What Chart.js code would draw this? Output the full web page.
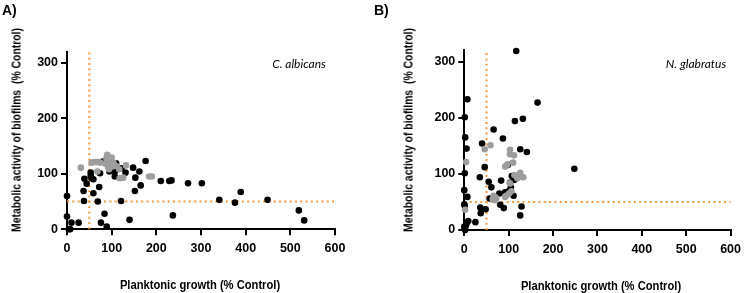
<!DOCTYPE html>
<html>
  <head>
    <title>Planktonic growth vs biofilm activity</title>
    <script src="https://cdn.jsdelivr.net/npm/chart.js"></script>
    <style>
      body {
        margin: 0;
        background: #fff;
        font-family: "Liberation Sans", Arial, sans-serif;
      }

      .wrap {
        position: relative;
        width: 747px;
        height: 293px;
        overflow: hidden;
      }

      canvas {
        position: absolute;
        top: 0;
      }

      .txt {
        position: absolute;
        white-space: nowrap;
        color: #000;
        transform: translate(-50%, -50%);
      }

      .panel {
        font-weight: bold;
        font-size: 14px;
        transform: none;
      }

      /* the original titles use a narrow bold face */
      .axis-title {
        font-weight: bold;
        font-size: 13px;
        transform: translate(-50%, -50%) scaleX(0.86);
      }

      .vert {
        transform: translate(-50%, -50%) rotate(-90deg) scaleX(0.8);
      }

      .species {
        font-family: Lato, "Open Sans", sans-serif;
        font-style: italic;
        font-size: 12px;
      }
    </style>
  </head>
  <body>
    <div class="wrap">
      <canvas id="chartA" width="373" height="293" style="left: 0"></canvas>
      <canvas id="chartB" width="374" height="293" style="left: 373px"></canvas>

      <div class="txt panel" style="left: 2px; top: 2px">A)</div>
      <div class="txt panel" style="left: 374px; top: 2px">B)</div>
      <div class="txt species" style="left: 299px; top: 63px">C. albicans</div>
      <div class="txt species" style="left: 696px; top: 63px">N. glabratus</div>
      <div class="txt axis-title vert" style="left: 16px; top: 130px">Metabolic activity of biofilms&nbsp; (% Control)</div>
      <div class="txt axis-title vert" style="left: 408px; top: 130px">Metabolic activity of biofilms&nbsp; (% Control)</div>
      <div class="txt axis-title" style="left: 200px; top: 284px">Planktonic growth (% Control)</div>
      <div class="txt axis-title" style="left: 601px; top: 285px">Planktonic growth (% Control)</div>
    </div>

    <script>
      // cut-off lines at 50 % of control
      const cutoff = 50;
      const xTicks = [0, 100, 200, 300, 400, 500, 600];
      const yTicks = [0, 100, 200, 300];
      const yMax = 320;

      // A) C. albicans
      const aBlackX = [0, 0, 4, 7, 10, 26, 37, 38, 39, 44, 53, 53, 55, 59, 59, 69, 72, 74, 76, 80, 84, 89, 95, 107, 107, 110, 121, 122, 131, 140, 148, 152, 153, 162, 165, 176, 210, 229, 234, 237, 271, 302, 341, 376, 389, 449, 519, 531];
      const aBlackY = [60, 23, 0, 0, 12, 12, 69, 51, 91, 82, 102, 96, 92, 90, 65, 50, 76, 101, 12, 122, 28, 5, 104, 95, 104, 119, 51, 110, 102, 17, 111, 69, 93, 104, 79, 123, 87, 87, 88, 25, 83, 83, 53, 48, 67, 53, 34, 16];
      const aGrayX = [31, 55, 61, 66, 70, 75, 68, 86, 88, 90, 92, 92, 94, 96, 98, 100, 102, 104, 110, 117, 118, 126, 132, 184, 190];
      const aGrayY = [111, 120, 121, 121, 121, 120, 104, 118, 128, 134, 124, 112, 108, 116, 126, 129, 113, 120, 114, 108, 92, 93, 115, 95, 95];

      // B) N. glabratus
      const bBlackX = [117, 7, 1, 2, 5, 1, 0, 7, 0, 1, 0, 3, 5, 9, 25, 37, 36, 35, 40, 48, 46, 55, 61, 57, 66, 83, 79, 81, 87, 89, 92, 98, 101, 105, 103, 107, 112, 111, 114, 132, 126, 126, 129, 141, 165, 248, 1, 2];
      const bBlackY = [319, 233, 201, 165, 145, 101, 71, 59, 46, 43, 6, 7, 11, 16, 14, 30, 40, 94, 154, 37, 112, 86, 76, 56, 179, 88, 65, 45, 163, 39, 67, 116, 70, 76, 84, 96, 89, 61, 194, 198, 144, 26, 42, 139, 227, 109, 3, 0];
      const bGrayX = [4, 2, 46, 59, 64, 68, 70, 72, 66, 92, 92, 96, 103, 103, 112, 110, 103, 106, 101, 94, 118, 126, 133, 120, 113];
      const bGrayY = [121, 36, 144, 151, 55, 59, 53, 57, 61, 59, 113, 116, 143, 135, 133, 120, 83, 69, 65, 61, 95, 102, 94, 92, 98];

      const black = "#000000";
      const gray = "#9d9d9d";
      const orange = "#f39a3a";

      function pts(xs, ys) {
        return xs.map((x, i) => ({ x: x, y: ys[i] }));
      }

      function cutLine(data) {
        return {
          type: "line",
          data: data,
          borderColor: orange,
          borderWidth: 2,
          borderDash: [2, 3.3],
          pointRadius: 0,
          fill: false,
          clip: false,
          order: 3,
        };
      }

      function makeChart(id, bx, by, gx, gy, box) {
        const ctx = document.getElementById(id).getContext("2d");
        return new Chart(ctx, {
          type: "scatter",
          data: {
            datasets: [
              cutLine([{ x: cutoff, y: 0 }, { x: cutoff, y: yMax }]),
              cutLine([{ x: 0, y: cutoff }, { x: 600, y: cutoff }]),
              {
                data: pts(bx, by),
                backgroundColor: black,
                borderWidth: 0,
                pointRadius: 3.3,
                clip: false,
                order: 2,
              },
              {
                data: pts(gx, gy),
                backgroundColor: gray,
                borderWidth: 0,
                pointRadius: 3.3,
                clip: false,
                order: 1,
              },
            ],
          },
          options: {
            responsive: false,
            animation: false,
            layout: {
              padding: { top: box.top, right: box.right, bottom: 0, left: 0 },
            },
            plugins: {
              legend: { display: false },
              tooltip: { enabled: false },
            },
            scales: {
              x: {
                type: "linear",
                min: 0,
                max: 600,
                afterBuildTicks: (s) => {
                  s.ticks = xTicks.map((v) => ({ value: v }));
                },
                afterFit: (s) => {
                  s.height = box.xh;
                },
                border: { display: true, color: black, width: 2 },
                grid: {
                  drawOnChartArea: false,
                  drawTicks: true,
                  tickLength: 6,
                  color: black,
                  lineWidth: 2,
                },
                ticks: {
                  color: black,
                  padding: 6,
                  maxRotation: 0,
                  font: { family: "Liberation Sans", size: 12.5, weight: "bold" },
                },
              },
              y: {
                type: "linear",
                min: 0,
                max: yMax,
                afterBuildTicks: (s) => {
                  s.ticks = yTicks.map((v) => ({ value: v }));
                },
                afterFit: (s) => {
                  s.width = box.yw;
                },
                border: { display: true, color: black, width: 2 },
                grid: {
                  drawOnChartArea: false,
                  drawTicks: true,
                  tickLength: 6,
                  color: black,
                  lineWidth: 2,
                },
                ticks: {
                  color: black,
                  padding: 3,
                  font: { family: "Liberation Sans", size: 12.5, weight: "bold" },
                },
              },
            },
          },
        });
      }

      makeChart("chartA", aBlackX, aBlackY, aGrayX, aGrayY, { top: 51.5, right: 38, xh: 63.7, yw: 67 });
      makeChart("chartB", bBlackX, bBlackY, bGrayX, bGrayY, { top: 50.4, right: 12, xh: 63, yw: 91.3 });
    </script>
  </body>
</html>
